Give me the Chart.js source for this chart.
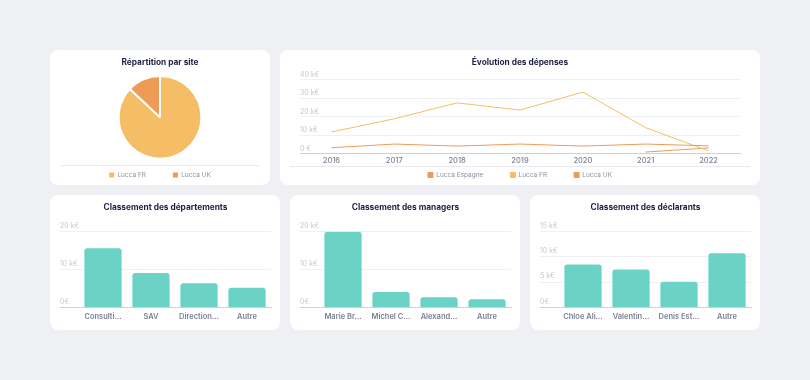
<!DOCTYPE html>
<html><head><meta charset="utf-8">
<script src="https://cdn.jsdelivr.net/npm/chart.js@4.4.1/dist/chart.umd.min.js"></script>
<style>
html,body{margin:0;padding:0;background:#eef0f4;width:810px;height:380px;overflow:hidden;}
.card{position:absolute;background:#fff;border-radius:8px;overflow:hidden;}
.card canvas{position:absolute;left:0;top:0;}
.sep{position:absolute;height:1px;background:#e9ebf0;}
</style></head><body>
<div class="card" style="left:50px;top:50px;width:220px;height:135px"><div class="sep" style="left:10px;right:10px;top:115px"></div><canvas id="cPie" width="220" height="135"></canvas></div>
<div class="card" style="left:280px;top:50px;width:480px;height:135px"><div class="sep" style="left:10px;right:10px;top:116px"></div><canvas id="cLine" width="480" height="135"></canvas></div>
<div class="card" style="left:50px;top:195px;width:230px;height:135px"><canvas id="cDept" width="230" height="135"></canvas></div>
<div class="card" style="left:290px;top:195px;width:230px;height:135px"><canvas id="cMgr" width="230" height="135"></canvas></div>
<div class="card" style="left:530px;top:195px;width:230px;height:135px"><canvas id="cDecl" width="230" height="135"></canvas></div>
<script>
// ---- data ----
const pieLabels = ['Lucca FR', 'Lucca UK'];
const pieValues = [87, 13];

const years = ['2016', '2017', '2018', '2019', '2020', '2021', '2022'];
const seriesNames = ['Lucca Espagne', 'Lucca FR', 'Lucca UK'];
const espagneValues = [3.2, 5.2, 4.1, 5.2, 4.1, 5.2, 4.2];
const frValues = [11.7, 18.8, 27.4, 23.5, 33.2, 14.0, 1.5];
const ukValues = [null, null, null, null, null, 0.9, 3.1];
const lineTicks = [0, 10, 20, 30, 40];

const deptLabels = ['Consulti…', 'SAV', 'Direction…', 'Autre'];
const deptValues = [15.6, 9.1, 6.4, 5.2];
const mgrLabels = ['Marie Br…', 'Michel C…', 'Alexand…', 'Autre'];
const mgrValues = [19.9, 4.1, 2.7, 2.2];
const declLabels = ['Chloe Ali…', 'Valentin…', 'Denis Est…', 'Autre'];
const declValues = [8.5, 7.5, 5.1, 10.7];

// ---- styles ----
const FONT = "Inter, 'Noto Sans', sans-serif";
Chart.defaults.font.family = FONT;
const titleColor = '#1d2140';
const legendColor = '#8c91a3';
const yTickColor = '#c3c7d2';
const xTickColor = '#7b8095';
const gridColor = '#eff0f4';
const axisColor = '#cdd1dc';
const frColor = '#f5be66';
const orangeColor = '#ee9b57';
const barColor = '#6bd3c6';
const titleFont = { size: 8.3, weight: '700', lineHeight: 1.2 };
const legendFont = { size: 6.5, lineHeight: 1.2 };
const LEGEND_FS = 6.5;

const legendPlace = {
  id: 'legendPlace',
  afterLayout(chart, args, opts) {
    const lg = chart.legend;
    if (!lg || opts.y == null) return;
    lg.top = opts.y - lg.options.labels.padding - LEGEND_FS / 2;
    lg.bottom = opts.y + 10;
    lg.height = lg.bottom - lg.top;
  }
};

function legendOpts(maxH, gen) {
  const labels = { boxWidth: 5, boxHeight: 5, padding: 27, color: legendColor, font: legendFont };
  if (gen) labels.generateLabels = gen;
  return { position: 'bottom', maxHeight: maxH, labels: labels };
}

// ---- pie ----
new Chart(document.getElementById('cPie'), {
  type: 'pie',
  data: { labels: pieLabels, datasets: [{ data: pieValues, backgroundColor: [frColor, orangeColor], borderColor: '#fff', borderWidth: 2, hoverOffset: 0 }] },
  options: {
    responsive: false, animation: false,
    layout: { padding: { top: 7.5, bottom: 0, left: 0, right: 0 } },
    plugins: {
      title: { display: true, text: 'Répartition par site', color: titleColor, font: titleFont, padding: { top: 0, bottom: 7.5 } },
      legend: legendOpts(25.3, chart => chart.data.labels.map((t, i) => ({
        text: t, fillStyle: chart.data.datasets[0].backgroundColor[i], strokeStyle: 'rgba(0,0,0,0)',
        lineWidth: 0, fontColor: legendColor, hidden: false, index: i
      }))),
      legendPlace: { y: 125 },
      tooltip: { enabled: false }
    }
  },
  plugins: [legendPlace]
});

// ---- line ----
new Chart(document.getElementById('cLine'), {
  type: 'line',
  data: {
    labels: years,
    datasets: [
      { label: seriesNames[0], data: espagneValues, borderColor: orangeColor, backgroundColor: orangeColor },
      { label: seriesNames[1], data: frValues, borderColor: frColor, backgroundColor: frColor },
      { label: seriesNames[2], data: ukValues, borderColor: orangeColor, backgroundColor: orangeColor }
    ]
  },
  options: {
    responsive: false, animation: false,
    elements: { line: { borderWidth: 1, tension: 0 }, point: { radius: 0, hoverRadius: 0 } },
    layout: { padding: { top: 7.5, bottom: 0, left: 20, right: 20 } },
    scales: {
      x: {
        offset: true,
        grid: { display: false, drawTicks: false },
        border: { display: true, color: axisColor },
        ticks: { color: xTickColor, font: { size: 7.5, weight: '500' }, padding: 3, maxRotation: 0 }
      },
      y: {
        min: 0, max: 40,
        afterBuildTicks(s) { s.ticks = lineTicks.map(v => ({ value: v })); },
        grid: { drawTicks: false, color: c => (c.tick && c.tick.value === 0 ? axisColor : gridColor) },
        border: { display: false },
        ticks: { mirror: true, padding: 0, labelOffset: -5, color: yTickColor, font: { size: 7 },
          callback: v => (v === 0 ? '0 €' : v + ' k€') }
      }
    },
    plugins: {
      title: { display: true, text: 'Évolution des dépenses', color: titleColor, font: titleFont, padding: { top: 0, bottom: 12 } },
      legend: legendOpts(16.3),
      legendPlace: { y: 125 },
      tooltip: { enabled: false }
    }
  },
  plugins: [legendPlace]
});

// ---- bars ----
function barChart(id, title, labels, values, max, step) {
  const tickVals = [];
  for (let v = 0; v <= max; v += step) tickVals.push(v);
  new Chart(document.getElementById(id), {
    type: 'bar',
    data: { labels: labels, datasets: [{ data: values, backgroundColor: barColor, borderRadius: 3, borderSkipped: 'start', categoryPercentage: 0.8, barPercentage: 0.97 }] },
    options: {
      responsive: false, animation: false,
      layout: { padding: { top: 7.5, bottom: 4.4, left: 10, right: 9 } },
      scales: {
        x: {
          grid: { display: false, drawTicks: false },
          border: { display: true, color: axisColor },
          ticks: { color: xTickColor, font: { size: 7.5, weight: '600' }, padding: 4.5, maxRotation: 0, autoSkip: false }
        },
        y: {
          min: 0, max: max,
          afterBuildTicks(s) { s.ticks = tickVals.map(v => ({ value: v })); },
          afterFit(s) { s.width = 19; },
          grid: { drawTicks: true, tickLength: 19, color: c => (c.tick && c.tick.value === 0 ? axisColor : gridColor) },
          border: { display: false },
          ticks: { crossAlign: 'far', padding: 0, labelOffset: -6, color: yTickColor, font: { size: 7 },
            callback: v => (v === 0 ? '0€' : v + ' k€') }
        }
      },
      plugins: {
        title: { display: true, text: title, color: titleColor, font: titleFont, padding: { top: 0, bottom: 19 } },
        legend: { display: false },
        tooltip: { enabled: false }
      }
    }
  });
}
barChart('cDept', 'Classement des départements', deptLabels, deptValues, 20, 10);
barChart('cMgr', 'Classement des managers', mgrLabels, mgrValues, 20, 10);
barChart('cDecl', 'Classement des déclarants', declLabels, declValues, 15, 5);
</script>
</body></html>
